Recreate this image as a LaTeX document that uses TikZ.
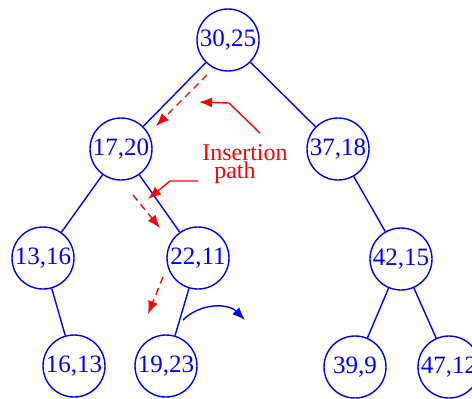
\documentclass[tikz,border=0pt]{standalone}
\usepackage{fontspec}
\setmainfont{Liberation Serif}
\usetikzlibrary{arrows.meta}
\tikzset{
	key/.style = {circle, draw = blue, text = blue, line width = 1.4pt, minimum size = 62pt, inner sep = 0pt, font = \fontsize{25}{30}\selectfont},
	edge/.style = {blue, line width = 1.4pt},
	inspath/.style = {red, line width = 1.4pt, dash pattern = on 7pt off 5pt, -{Latex[length=13pt, width=10pt]}},
	pointer/.style = {red, line width = 1.4pt, -{Latex[length=13pt, width=10pt]}},
	label/.style = {red, anchor = base, inner sep = 0pt, font = \fontsize{24}{28}\selectfont}
}
\begin{document}
\begin{tikzpicture}[x = 1pt, y = -1pt]
	\useasboundingbox (0,0) rectangle (472,399);
	% tree
	\node [key] (n3025) at (228,40) {30,25};
	\node [key] (n1720) at (121,149) {17,20};
	\node [key] (n3718) at (338,149) {37,18};
	\node [key] (n1316) at (43,258) {13,16};
	\node [key] (n2211) at (198,258) {22,11};
	\node [key] (n4215) at (401,259) {42,15};
	\node [key] (n1613) at (74,366) {16,13};
	\node [key] (n1923) at (166,366) {19,23};
	\node [key] (n399) at (355,367) {39,9};
	\node [key] (n4712) at (449,367) {47,12};
	\draw [edge] (n3025) -- (n1720);
	\draw [edge] (n3025) -- (n3718);
	\draw [edge] (n1720) -- (n1316);
	\draw [edge] (n1720) -- (n2211);
	\draw [edge] (n1316) -- (n1613);
	\draw [edge] (n2211) -- (n1923);
	\draw [edge] (n3718) -- (n4215);
	\draw [edge] (n4215) -- (n399);
	\draw [edge] (n4215) -- (n4712);
	% insertion path
	\coordinate (p1) at (207,75);
	\coordinate (q1) at (156,126);
	\coordinate (p2) at (133,195);
	\coordinate (q2) at (160,228);
	\coordinate (p3) at (163,277);
	\coordinate (q3) at (148,314);
	\draw [inspath] (p1) -- (q1);
	\draw [inspath] (p2) -- (q2);
	\draw [inspath] (p3) -- (q3);
	\node [label] (ins) at (245,160) {Insertion};
	\node [label] (pth) at (235,178) {path};
	\coordinate (s1) at (260,133);
	\coordinate (s2) at (198,181);
	\draw [pointer] (s1) -- (229,103) -- (199,102);
	\draw [pointer] (s2) -- (170,181) -- (148,199);
	% rotation
	\coordinate (r1) at (183,320);
	\coordinate (r2) at (245,320);
	\draw [blue, line width = 1.4pt, -{Latex[length=13pt, width=10pt]}] (r1) to [bend left = 45] (r2);
\end{tikzpicture}
\end{document}
